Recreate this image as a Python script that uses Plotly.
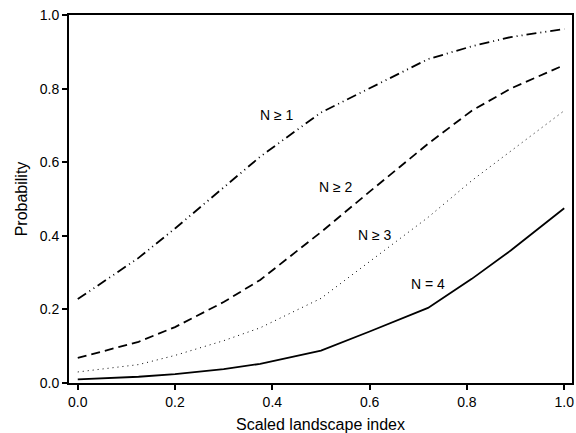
import plotly.graph_objects as go

x = [0.0, 0.125, 0.2, 0.3, 0.375, 0.5, 0.6, 0.72, 0.81, 0.89, 1.0]
n_ge1 = [0.228, 0.34, 0.42, 0.53, 0.615, 0.735, 0.80, 0.88, 0.915, 0.94, 0.962]
n_ge2 = [0.068, 0.112, 0.152, 0.22, 0.28, 0.41, 0.52, 0.65, 0.74, 0.80, 0.864]
n_ge3 = [0.03, 0.05, 0.075, 0.115, 0.15, 0.23, 0.33, 0.45, 0.55, 0.63, 0.74]
n_eq4 = [0.01, 0.017, 0.024, 0.038, 0.052, 0.088, 0.14, 0.204, 0.283, 0.36, 0.475]

labels = ["N \u2265 1", "N \u2265 2", "N \u2265 3", "N = 4"]
label_x = [0.41, 0.53, 0.61, 0.72]
label_y = [0.728, 0.533, 0.402, 0.269]

FONT = "Liberation Sans, Arial"

fig = go.Figure()
fig.add_trace(go.Scatter(x=x, y=n_ge1, mode="lines",
                         line=dict(color="black", width=1.8, dash="10px,4px,1px,4px,1px,4px")))
fig.add_trace(go.Scatter(x=x, y=n_ge2, mode="lines",
                         line=dict(color="black", width=1.8, dash="9px,5px")))
fig.add_trace(go.Scatter(x=x, y=n_ge3, mode="lines",
                         line=dict(color="black", width=1, dash="1px,4px")))
fig.add_trace(go.Scatter(x=x, y=n_eq4, mode="lines",
                         line=dict(color="black", width=1.8)))

for t, lx, ly in zip(labels, label_x, label_y):
    fig.add_annotation(x=lx, y=ly, text=t, showarrow=False,
                       font=dict(family=FONT, size=14, color="black"))

axis_common = dict(showline=True, linecolor="black", linewidth=2, mirror=True,
                   ticks="outside", ticklen=5, tickwidth=1.5, tickcolor="black",
                   showgrid=False, zeroline=False,
                   tickfont=dict(family=FONT, size=14, color="black"))

fig.update_layout(
    width=576, height=433,
    margin=dict(l=69, r=2, t=15, b=50),
    paper_bgcolor="white", plot_bgcolor="white",
    showlegend=False,
    xaxis=dict(range=[-0.018, 1.016], tickvals=[0, 0.2, 0.4, 0.6, 0.8, 1.0],
               ticktext=["0.0", "0.2", "0.4", "0.6", "0.8", "1.0"],
               title=dict(text="Scaled landscape index", standoff=10,
                          font=dict(family=FONT, size=16, color="black")),
               **axis_common),
    yaxis=dict(range=[0, 1.0], tickvals=[0, 0.2, 0.4, 0.6, 0.8, 1.0],
               ticktext=["0.0", "0.2", "0.4", "0.6", "0.8", "1.0"],
               title=dict(text="Probability", standoff=8,
                          font=dict(family=FONT, size=16, color="black")),
               **axis_common),
)

fig.write_html("out.html", config={"displayModeBar": False},
               post_script="document.body.style.margin='0';document.body.style.overflow='hidden';")
